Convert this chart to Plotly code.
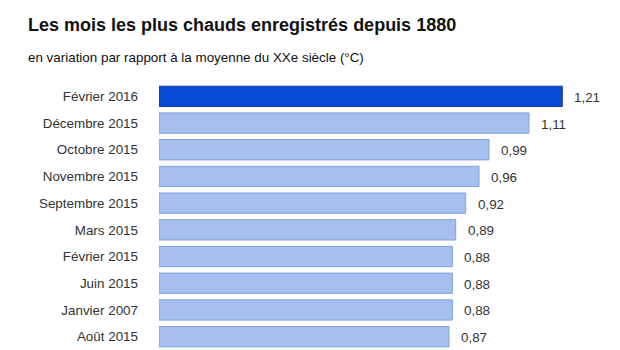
import plotly.graph_objects as go

# Hottest months on record since 1880, anomaly vs. 20th-century mean (°C)
months = [
    "Février 2016", "Décembre 2015", "Octobre 2015", "Novembre 2015",
    "Septembre 2015", "Mars 2015", "Février 2015", "Juin 2015",
    "Janvier 2007", "Août 2015",
]
anomalies = [1.21, 1.11, 0.99, 0.96, 0.92, 0.89, 0.88, 0.88, 0.88, 0.87]
highlight = "Février 2016"

title = "Les mois les plus chauds enregistrés depuis 1880"
subtitle = "en variation par rapport à la moyenne du XXe siècle (°C)"

dark_fill, dark_line = "#0A4BD3", "#1A3CA8"
light_fill, light_line = "#A6BFEE", "#819FDC"
FONT = "Liberation Sans, Arial"

fills = [dark_fill if m == highlight else light_fill for m in months]
lines = [dark_line if m == highlight else light_line for m in months]

# plot area geometry (pixels)
W, H = 620, 350
L, R, T = 159, 1, 83
pw, ph = W - L - R, H - T


def px_x(px):
    return (px - L) / pw


def px_y(py):
    return 1.0 + (T - py) / ph


fig = go.Figure(
    go.Bar(
        x=anomalies,
        y=months,
        orientation="h",
        width=0.76,
        marker=dict(color=fills, line=dict(color=lines, width=1)),
        hoverinfo="skip",
    )
)

# value labels to the right of each bar, French decimal comma
for m, v in zip(months, anomalies):
    fig.add_annotation(
        x=v, y=m, xref="x", yref="y",
        text=f"{v:.2f}".replace(".", ","),
        showarrow=False, xanchor="left", yanchor="middle",
        xshift=10, yshift=-1,
        font=dict(family=FONT, size=13.4, color="#333333"),
    )

fig.add_annotation(
    xref="paper", yref="paper", x=px_x(26), y=px_y(25),
    text=f"<b>{title}</b>",
    showarrow=False, xanchor="left", yanchor="middle",
    font=dict(family=FONT, size=18, color="#111111"),
)
fig.add_annotation(
    xref="paper", yref="paper", x=px_x(26), y=px_y(57),
    text=subtitle,
    showarrow=False, xanchor="left", yanchor="middle",
    font=dict(family=FONT, size=13.4, color="#111111"),
)

fig.update_layout(
    width=W, height=H,
    margin=dict(l=L, r=R, t=T, b=0),
    paper_bgcolor="white", plot_bgcolor="white",
    showlegend=False,
    font=dict(family=FONT, size=13.4, color="#333333"),
    xaxis=dict(range=[0, 1.38], visible=False, fixedrange=True),
    yaxis=dict(
        categoryorder="array", categoryarray=months,
        range=[9.5, -0.5],
        showgrid=False, zeroline=False, showline=False,
        ticks="", ticklabelstandoff=20,
        tickfont=dict(family=FONT, size=13.4, color="#333333"),
        fixedrange=True,
    ),
)

fig.write_html("out.html")
